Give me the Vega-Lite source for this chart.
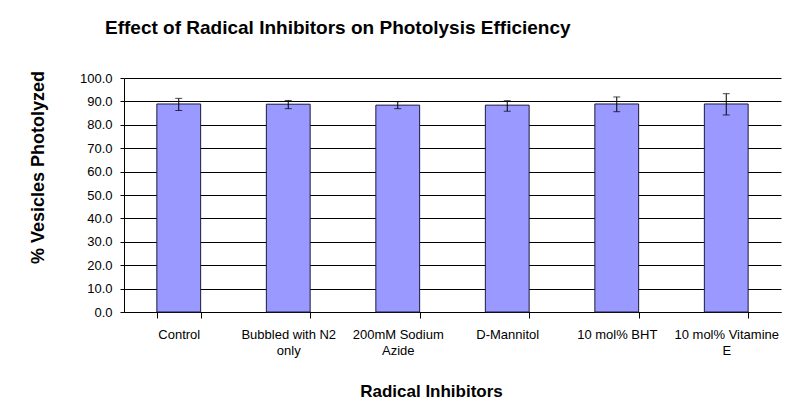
{
  "$schema": "https://vega.github.io/schema/vega-lite/v6.json",
  "width": 657,
  "height": 234,
  "autosize": {"type": "none"},
  "padding": {"left": 124, "top": 78, "right": 19, "bottom": 106},
  "background": "white",
  "title": {
    "text": "Effect of Radical Inhibitors on Photolysis Efficiency",
    "anchor": "start",
    "frame": "group",
    "dx": -19,
    "offset": 17,
    "baseline": "alphabetic",
    "fontSize": 19,
    "fontWeight": "bold",
    "color": "black"
  },
  "data": {
    "values": [
      {"category": "Control", "value": 88.9, "lo": 86.1, "hi": 91.3},
      {"category": "Bubbled with N2 only", "value": 88.8, "lo": 86.9, "hi": 90.4},
      {"category": "200mM Sodium Azide", "value": 88.4, "lo": 86.9, "hi": 89.9},
      {"category": "D-Mannitol", "value": 88.4, "lo": 85.8, "hi": 90.3},
      {"category": "10 mol% BHT", "value": 88.9, "lo": 85.6, "hi": 91.9},
      {"category": "10 mol% Vitamine E", "value": 88.9, "lo": 84.2, "hi": 93.3}
    ]
  },
  "encoding": {
    "x": {
      "field": "category",
      "type": "nominal",
      "sort": null,
      "scale": {"paddingInner": 0.6, "paddingOuter": 0.3},
      "axis": {
        "title": "Radical Inhibitors",
        "titleFontSize": 17,
        "titleFontWeight": "bold",
        "titleColor": "black",
        "titleX": 307,
        "titleY": 84,
        "titleBaseline": "alphabetic",
        "titleAlign": "center",
        "labelAngle": 0,
        "labelFontSize": 13,
        "labelColor": "black",
        "labelBaseline": "top",
        "labelPadding": 10,
        "labelLineHeight": 16,
        "labelLimit": 0,
        "labelExpr": "datum.label == 'Bubbled with N2 only' ? ['Bubbled with N2', 'only'] : datum.label == '200mM Sodium Azide' ? ['200mM Sodium', 'Azide'] : datum.label == '10 mol% Vitamine E' ? ['10 mol% Vitamine', 'E'] : datum.label",
        "tickBand": "extent",
        "tickSize": 6,
        "tickColor": "black",
        "domainColor": "black"
      }
    }
  },
  "layer": [
    {
      "mark": {"type": "bar", "color": "#9999FF", "stroke": "#1a1a3a", "strokeWidth": 1},
      "encoding": {
        "y": {
          "field": "value",
          "type": "quantitative",
          "title": "% Vesicles Photolyzed",
          "scale": {"domain": [0, 100], "nice": false},
          "axis": {
            "values": [0, 10, 20, 30, 40, 50, 60, 70, 80, 90, 100],
            "format": ".1f",
            "grid": true,
            "gridColor": "black",
            "gridOpacity": 1,
            "gridWidth": 1,
            "labelOverlap": false,
            "domainColor": "black",
            "tickColor": "black",
            "tickSize": 4,
            "labelPadding": 8,
            "labelFontSize": 13,
            "labelColor": "black",
            "titleFontSize": 18,
            "titleFontWeight": "bold",
            "titleColor": "black",
            "titleX": -81,
            "titleY": 89,
            "titleAngle": -90,
            "titleBaseline": "alphabetic",
            "titleAlign": "center"
          }
        }
      }
    },
    {
      "mark": {"type": "rule", "color": "black", "strokeWidth": 1},
      "encoding": {
        "y": {
          "field": "lo",
          "type": "quantitative",
          "title": "% Vesicles Photolyzed",
          "scale": {"domain": [0, 100], "nice": false},
          "axis": {
            "values": [0, 10, 20, 30, 40, 50, 60, 70, 80, 90, 100],
            "format": ".1f",
            "grid": true,
            "gridColor": "black",
            "gridOpacity": 1,
            "gridWidth": 1,
            "labelOverlap": false,
            "domainColor": "black",
            "tickColor": "black",
            "tickSize": 4,
            "labelPadding": 8,
            "labelFontSize": 13,
            "labelColor": "black",
            "titleFontSize": 18,
            "titleFontWeight": "bold",
            "titleColor": "black",
            "titleX": -81,
            "titleY": 89,
            "titleAngle": -90,
            "titleBaseline": "alphabetic",
            "titleAlign": "center"
          }
        },
        "y2": {"field": "hi"}
      }
    },
    {
      "mark": {"type": "tick", "color": "black", "size": 7, "thickness": 1},
      "encoding": {
        "y": {
          "field": "lo",
          "type": "quantitative",
          "title": "% Vesicles Photolyzed",
          "scale": {"domain": [0, 100], "nice": false},
          "axis": {
            "values": [0, 10, 20, 30, 40, 50, 60, 70, 80, 90, 100],
            "format": ".1f",
            "grid": true,
            "gridColor": "black",
            "gridOpacity": 1,
            "gridWidth": 1,
            "labelOverlap": false,
            "domainColor": "black",
            "tickColor": "black",
            "tickSize": 4,
            "labelPadding": 8,
            "labelFontSize": 13,
            "labelColor": "black",
            "titleFontSize": 18,
            "titleFontWeight": "bold",
            "titleColor": "black",
            "titleX": -81,
            "titleY": 89,
            "titleAngle": -90,
            "titleBaseline": "alphabetic",
            "titleAlign": "center"
          }
        }
      }
    },
    {
      "mark": {"type": "tick", "color": "black", "size": 7, "thickness": 1},
      "encoding": {
        "y": {
          "field": "hi",
          "type": "quantitative",
          "title": "% Vesicles Photolyzed",
          "scale": {"domain": [0, 100], "nice": false},
          "axis": {
            "values": [0, 10, 20, 30, 40, 50, 60, 70, 80, 90, 100],
            "format": ".1f",
            "grid": true,
            "gridColor": "black",
            "gridOpacity": 1,
            "gridWidth": 1,
            "labelOverlap": false,
            "domainColor": "black",
            "tickColor": "black",
            "tickSize": 4,
            "labelPadding": 8,
            "labelFontSize": 13,
            "labelColor": "black",
            "titleFontSize": 18,
            "titleFontWeight": "bold",
            "titleColor": "black",
            "titleX": -81,
            "titleY": 89,
            "titleAngle": -90,
            "titleBaseline": "alphabetic",
            "titleAlign": "center"
          }
        }
      }
    }
  ],
  "config": {
    "font": "Liberation Sans",
    "view": {"stroke": null}
  }
}
